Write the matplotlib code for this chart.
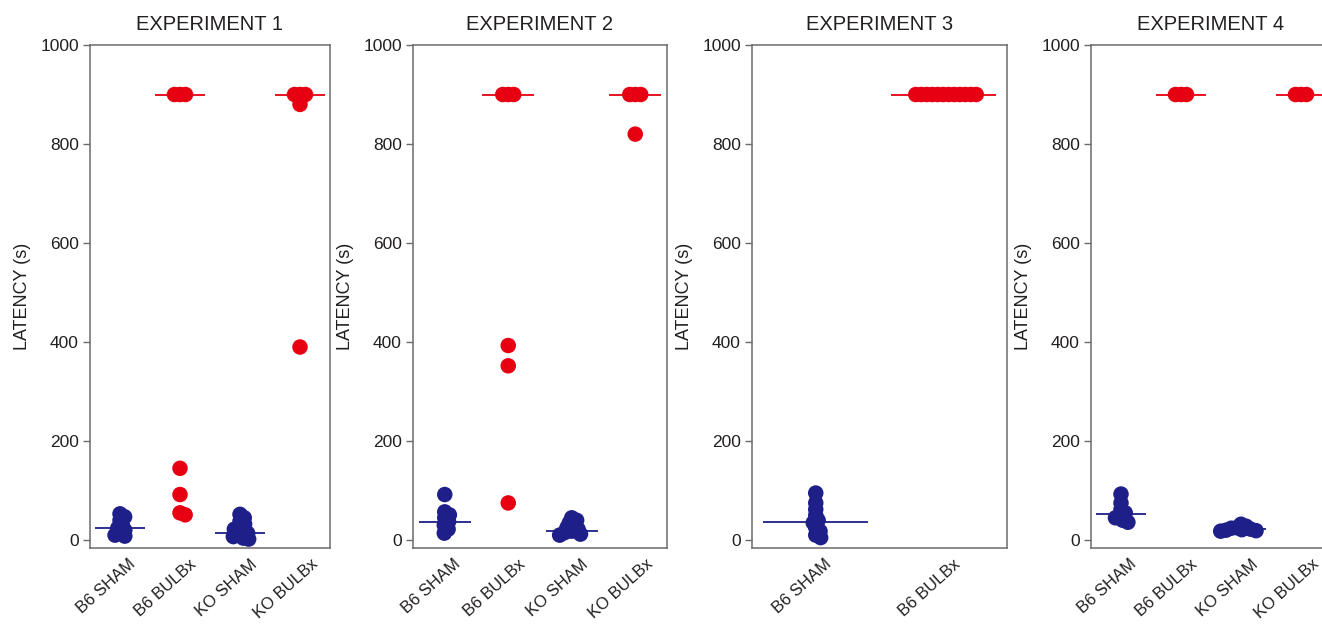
import numpy as np
import matplotlib
matplotlib.use("Agg")
import matplotlib.pyplot as plt

plt.rcParams['font.family'] = ['Liberation Sans', 'DejaVu Sans']

# ---------------- data (latency, seconds) ----------------
titles = ["EXPERIMENT 1", "EXPERIMENT 2", "EXPERIMENT 3", "EXPERIMENT 4"]

exp1_groups = ["B6 SHAM", "B6 BULBx", "KO SHAM", "KO BULBx"]
exp1_b6_sham = [53, 47, 40, 30, 24, 20, 14, 10, 8]
exp1_b6_bulbx = [900, 900, 900, 145, 92, 55, 51]
exp1_ko_sham = [52, 45, 38, 32, 27, 22, 18, 14, 10, 7, 4, 2]
exp1_ko_bulbx = [900, 900, 900, 880, 390]
exp1_medians = [24, 900, 14, 900]

exp2_groups = ["B6 SHAM", "B6 BULBx", "KO SHAM", "KO BULBx"]
exp2_b6_sham = [92, 57, 51, 45, 37, 30, 22, 14]
exp2_b6_bulbx = [900, 900, 900, 393, 352, 75]
exp2_ko_sham = [45, 40, 35, 30, 25, 22, 18, 15, 12, 10]
exp2_ko_bulbx = [900, 900, 900, 820]
exp2_medians = [37, 900, 18, 900]

exp3_groups = ["B6 SHAM", "B6 BULBx"]
exp3_b6_sham = [95, 75, 62, 50, 40, 35, 25, 18, 10, 5]
exp3_b6_bulbx = [900] * 12
exp3_medians = [37, 900]

exp4_groups = ["B6 SHAM", "B6 BULBx", "KO SHAM", "KO BULBx"]
exp4_b6_sham = [93, 75, 62, 55, 50, 45, 40, 36]
exp4_b6_bulbx = [900, 900, 900]
exp4_ko_sham = [32, 28, 25, 24, 22, 21, 20, 19, 18]
exp4_ko_bulbx = [900, 900, 900]
exp4_medians = [53, 900, 22, 900]

yticks = [0, 200, 400, 600, 800, 1000]

experiments = [
    (exp1_groups, [exp1_b6_sham, exp1_b6_bulbx, exp1_ko_sham, exp1_ko_bulbx], exp1_medians),
    (exp2_groups, [exp2_b6_sham, exp2_b6_bulbx, exp2_ko_sham, exp2_ko_bulbx], exp2_medians),
    (exp3_groups, [exp3_b6_sham, exp3_b6_bulbx], exp3_medians),
    (exp4_groups, [exp4_b6_sham, exp4_b6_bulbx, exp4_ko_sham, exp4_ko_bulbx], exp4_medians),
]

# ---------------- style ----------------
BLUE = "#1f1f8a"
RED = "#e60012"
SPINE = "#6d6a68"
TXT = "#231f20"
W, H = 1322, 627
# axes boxes in pixels: (left, width)
boxes = [(90, 240), (413, 254), (752, 255), (1091, 240)]
top_px, bottom_px = 45, 548
marker_d_px = 15.5
collide_px = 5.5
label_shift_px = 14  # category labels sit a little left of the group centre


def swarm_offsets(ax, xc, ys, d):
    ys = np.asarray(ys, float)
    pts = ax.transData.transform(np.column_stack([np.full(len(ys), xc), ys]))
    x0 = ax.transData.transform((xc, 0))[0]
    x1 = ax.transData.transform((xc + 1, 0))[0]
    ppu = x1 - x0
    order = np.argsort(-ys, kind="stable")
    placed = []
    offs = np.zeros(len(ys))
    for i in order:
        py = pts[i, 1]
        cands = [0.0]
        for qx, qy in placed:
            dy = py - qy
            if abs(dy) < d:
                dx = np.sqrt(d * d - dy * dy)
                cands += [qx + dx, qx - dx]
        cands = sorted(cands, key=lambda c: (round(abs(c), 6), -c))
        chosen = cands[-1]
        for c in cands:
            if all((c - qx) ** 2 + (py - qy) ** 2 >= d * d - 1e-6 for qx, qy in placed):
                chosen = c
                break
        placed.append((chosen, py))
        offs[i] = chosen
    return xc + offs / ppu


fig = plt.figure(figsize=(W / 100, H / 100), dpi=100)
fig.patch.set_facecolor("white")

for k, (title, (groups, values, medians)) in enumerate(zip(titles, experiments)):
    left, width = boxes[k]
    ax = fig.add_axes([left / W, (H - bottom_px) / H, width / W, (bottom_px - top_px) / H])
    n = len(groups)
    ax.set_xlim(-0.5, n - 0.5)
    ax.set_ylim(-16, 1000)
    for s in ax.spines.values():
        s.set_color(SPINE)
        s.set_linewidth(1.1)
    for i, (vals, med) in enumerate(zip(values, medians)):
        color = BLUE if "SHAM" in groups[i] else RED
        ax.plot([i - 0.41, i + 0.41], [med, med], color=color, lw=1.3, zorder=2,
                solid_capstyle="butt")
        xs = swarm_offsets(ax, i, vals, collide_px)
        ax.scatter(xs, vals, s=(marker_d_px * 0.72) ** 2, color=color,
                   edgecolors="none", zorder=3)
    ax.set_yticks(yticks)
    ax.set_yticklabels([str(t) for t in yticks], fontsize=12.5, color=TXT)
    ax.tick_params(axis="y", length=5, width=1.0, color=SPINE, pad=3)
    ppu = width / n
    ax.set_xticks(np.arange(n) - label_shift_px / ppu)
    ax.set_xticklabels(groups, rotation=42, ha="center", fontsize=12, color=TXT)
    ax.tick_params(axis="x", length=0, pad=6)
    ax.set_ylabel("LATENCY (s)", fontsize=13, color=TXT, labelpad=7)
    ax.set_title(title, fontsize=14.5, color=TXT, pad=11)

fig.savefig("out.png", dpi=100, facecolor="white")
